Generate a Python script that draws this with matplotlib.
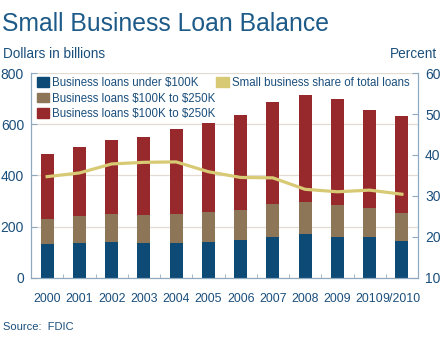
import numpy as np
import matplotlib
matplotlib.use("Agg")
import matplotlib.pyplot as plt
from matplotlib.patches import Patch

plt.rcParams['font.family'] = ['Liberation Sans', 'DejaVu Sans']

# Données
years = ["2000", "2001", "2002", "2003", "2004", "2005",
         "2006", "2007", "2008", "2009", "2010", "9/2010"]
under_100k = [130, 137, 141, 137, 134, 138, 146, 159, 169, 160, 159, 143]
k100_250 = [98, 104, 107, 108, 116, 117, 120, 129, 128, 124, 112, 111]
over_250k = [255, 271, 290, 307, 330, 350, 370, 401, 417, 414, 384, 378]
share_pct = [34.7, 35.6, 37.8, 38.2, 38.3, 35.9, 34.5, 34.4, 31.6, 31.0, 31.4, 30.4]

c_blue = "#0d4a75"
c_brown = "#8d7558"
c_red = "#97292c"
c_line = "#d8ca74"
c_text = "#1b4f7c"
c_spine = "#8fa9c0"
c_grid = "#e2dcd2"

fig = plt.figure(figsize=(4.43, 3.37), dpi=100)
ax = fig.add_axes([0.070, 0.176, 0.8736, 0.607])
ax2 = ax.twinx()

x = np.arange(len(years))
w = 0.4
under = np.array(under_100k)
mid = np.array(k100_250)
top = np.array(over_250k)
ax.bar(x, under, w, color=c_blue, zorder=2)
ax.bar(x, mid, w, bottom=under, color=c_brown, zorder=2)
ax.bar(x, top, w, bottom=under + mid, color=c_red, zorder=2)

ax2.plot(x, share_pct, color=c_line, lw=2.3, zorder=3)

# Axes
ax.set_xlim(-0.5, 11.5)
ax.set_ylim(0, 800)
ax.set_yticks([0, 200, 400, 600, 800])
ax2.set_ylim(10, 60)
ax2.set_yticks([10, 20, 30, 40, 50, 60])
ax.grid(axis='y', color=c_grid, lw=0.9, zorder=0)
ax.set_axisbelow(True)

ax.set_xticks(x)
ax.set_xticklabels(years)
ax.set_xticks(np.arange(0.5, 11, 1), minor=True)
ax.tick_params(axis='x', which='major', length=0, labelsize=8.9,
               labelcolor=c_text, pad=11)
ax.tick_params(axis='x', which='minor', direction='in', length=3,
               color=c_spine)
ax.tick_params(axis='y', direction='in', length=4, color=c_spine,
               labelsize=10, labelcolor=c_text, pad=5)
ax2.tick_params(axis='y', direction='in', length=4, color=c_spine,
                labelsize=10, labelcolor=c_text, pad=5)

for a in (ax, ax2):
    for s in a.spines.values():
        s.set_color(c_spine)
    a.spines['top'].set_visible(False)

# Titres
fig.text(0.005, 0.965, "Small Business Loan Balance", fontsize=17.8,
         color="#1d5a88", va='top', ha='left')
fig.text(0.006, 0.84, "Dollars in billions", fontsize=9.8,
         color=c_text, va='center', ha='left')
fig.text(0.987, 0.84, "Percent", fontsize=9.8,
         color=c_text, va='center', ha='right')
fig.text(0.006, 0.03, "Source:  FDIC", fontsize=8,
         color=c_text, va='center', ha='left')

# Légendes
h1 = [Patch(color=c_blue), Patch(color=c_brown), Patch(color=c_red)]
l1 = ["Business loans under \\$100K",
      "Business loans \\$100K to \\$250K",
      "Business loans \\$100K to \\$250K"]
leg1 = ax2.legend(h1, l1, loc='upper left', bbox_to_anchor=(-0.005, 1.02),
                  frameon=False, fontsize=8.3, handlelength=1.0,
                  handleheight=0.9, handletextpad=0.3, labelspacing=0.3,
                  borderaxespad=0.3, labelcolor=c_text)
ax2.add_artist(leg1)
ax2.legend([Patch(color=c_line)], ["Small business share of total loans"],
           loc='upper right', bbox_to_anchor=(1.0, 1.02), frameon=False,
           fontsize=8.3, handlelength=1.1, handleheight=0.9,
           handletextpad=0.3, borderaxespad=0.3, labelcolor=c_text)

fig.savefig("out.png", dpi=100)
